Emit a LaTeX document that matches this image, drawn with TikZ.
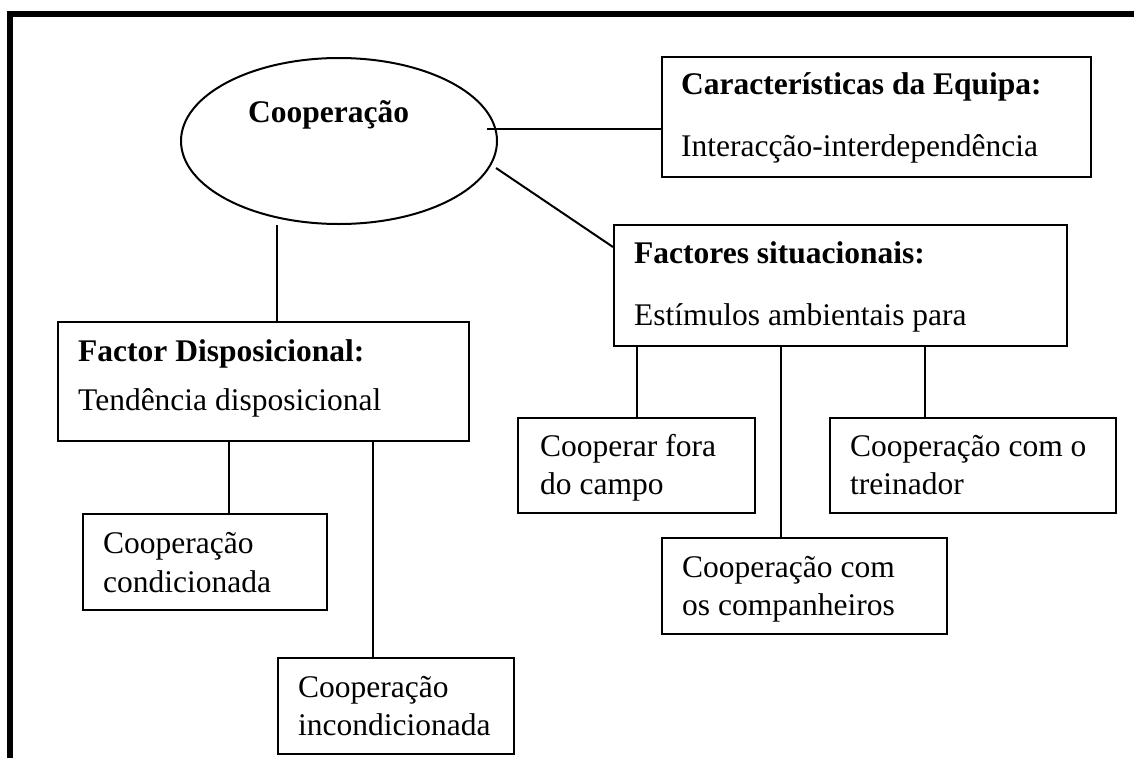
\documentclass[tikz,border=0pt]{standalone}
\usepackage{fontspec}
\setmainfont{Liberation Serif}
\usetikzlibrary{shapes.geometric,calc}
\begin{document}
\begin{tikzpicture}[x=1pt,y=-1pt,
  box/.style={draw,line width=2pt,rectangle,inner sep=0pt,anchor=north west},
  conn/.style={line width=2pt},
  txt/.style={inner sep=0pt,anchor=base west,font=\fontsize{31.5}{38}\selectfont},
  btxt/.style={txt,font=\fontsize{31.5}{38}\selectfont\bfseries}]
\useasboundingbox (0,0) rectangle (1134,758);
% frame
\draw[line width=6pt] (10,758) -- (10,14) -- (1134,14);
% nodes
\node[draw,line width=2pt,ellipse,minimum width=316pt,minimum height=166pt,inner sep=0pt] (coop) at (339,141) {};
\node[btxt] (tcoop) at (248,122) {Cooperação};
\node[box,minimum width=429pt,minimum height=120pt] (ce) at (661,56) {};
\node[btxt] (tce1) at (681,94) {Características da Equipa:};
\node[txt] (tce2) at (681,156) {Interacção-interdependência};
\node[box,minimum width=453pt,minimum height=121pt] (fs) at (613,224) {};
\node[btxt] (tfs1) at (634,263) {Factores situacionais:};
\node[txt] (tfs2) at (634,325) {Estímulos ambientais para};
\node[box,minimum width=411pt,minimum height=119pt] (fd) at (57,321) {};
\node[btxt] (tfd1) at (78,361) {Factor Disposicional:};
\node[txt] (tfd2) at (78,410) {Tendência disposicional};
\node[box,minimum width=244pt,minimum height=96pt] (cc) at (82,513) {};
\node[txt] (tcc1) at (103,553) {Cooperação};
\node[txt] (tcc2) at (103,592) {condicionada};
\node[box,minimum width=236pt,minimum height=96pt] (ci) at (277,657) {};
\node[txt] (tci1) at (298,697) {Cooperação};
\node[txt] (tci2) at (298,735) {incondicionada};
\node[box,minimum width=237pt,minimum height=95pt] (cf) at (517,417) {};
\node[txt] (tcf1) at (540,456) {Cooperar fora};
\node[txt] (tcf2) at (540,494) {do campo};
\node[box,minimum width=286pt,minimum height=95pt] (ct) at (829,417) {};
\node[txt] (tct1) at (850,456) {Cooperação com o};
\node[txt] (tct2) at (850,494) {treinador};
\node[box,minimum width=285pt,minimum height=96pt] (cp) at (661,537) {};
\node[txt] (tcp1) at (682,577) {Cooperação com};
\node[txt] (tcp2) at (682,615) {os companheiros};
% connector coordinates
\coordinate (c1) at (487,129);
\coordinate (c2) at (496,168);
\coordinate (c3) at (277,225);
\coordinate (xcc) at (229,0);
\coordinate (xci) at (373,0);
\coordinate (xcf) at (637,0);
\coordinate (xcp) at (781,0);
\coordinate (xct) at (925,0);
% connectors
\draw[conn] (c1) -- (c1 -| ce.west);
\draw[conn] (c2) -- ($(fs.north west)+(0,23)$);
\draw[conn] (c3) -- (fd.north -| c3);
\draw[conn] (fd.south -| xcc) -- (cc.north -| xcc);
\draw[conn] (fd.south -| xci) -- (ci.north -| xci);
\draw[conn] (fs.south -| xcf) -- (cf.north -| xcf);
\draw[conn] (fs.south -| xcp) -- (cp.north -| xcp);
\draw[conn] (fs.south -| xct) -- (ct.north -| xct);
\end{tikzpicture}
\end{document}
